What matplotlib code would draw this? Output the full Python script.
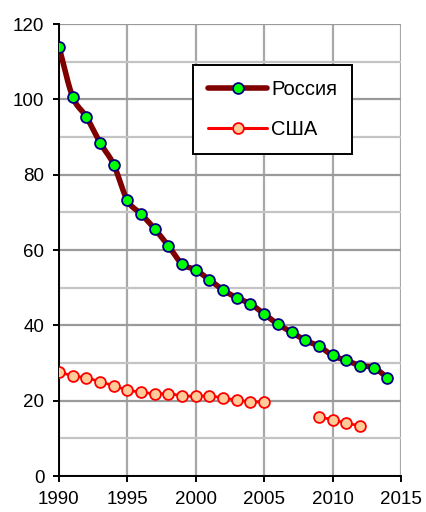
import numpy as np
import matplotlib
matplotlib.use("Agg")
import matplotlib.pyplot as plt
from matplotlib.lines import Line2D

plt.rcParams['font.family'] = ['Liberation Sans', 'DejaVu Sans']

years_russia = list(range(1990, 2015))
russia = [114.0, 100.7, 95.4, 88.5, 82.7, 73.2, 69.6, 65.6, 61.1, 56.3,
          54.7, 52.1, 49.4, 47.3, 45.7, 43.0, 40.3, 38.2, 36.0, 34.5,
          32.0, 30.7, 29.3, 28.8, 26.1]

years_usa_a = list(range(1990, 2006))
usa_a = [27.7, 26.6, 26.1, 25.0, 24.0, 22.8, 22.3, 21.8, 21.9, 21.3,
         21.2, 21.3, 20.7, 20.2, 19.7, 19.7]
years_usa_b = [2009, 2010, 2011, 2012]
usa_b = [15.6, 15.0, 14.0, 13.4]

label_russia = "Россия"
label_usa = "США"
x_ticks = [1990, 1995, 2000, 2005, 2010, 2015]
y_ticks = [0, 20, 40, 60, 80, 100, 120]


def smooth(x, y, n=20):
    """Catmull-Rom smoothing (like Excel's smoothed line) through the data points."""
    x = np.asarray(x, float)
    y = np.asarray(y, float)
    if len(x) < 3:
        return x, y
    px = np.concatenate([[2 * x[0] - x[1]], x, [2 * x[-1] - x[-2]]])
    py = np.concatenate([[2 * y[0] - y[1]], y, [2 * y[-1] - y[-2]]])
    xs, ys = [], []
    t = np.linspace(0, 1, n, endpoint=False)
    for i in range(1, len(px) - 2):
        for p, out in ((px, xs), (py, ys)):
            p0, p1, p2, p3 = p[i - 1], p[i], p[i + 1], p[i + 2]
            out.extend(0.5 * ((2 * p1) + (-p0 + p2) * t +
                              (2 * p0 - 5 * p1 + 4 * p2 - p3) * t ** 2 +
                              (-p0 + 3 * p1 - 3 * p2 + p3) * t ** 3))
    xs.append(x[-1])
    ys.append(y[-1])
    return np.array(xs), np.array(ys)


fig = plt.figure(figsize=(4.27, 5.12), dpi=100)
ax = fig.add_axes([0.138, 0.0703, 0.801, 0.8828])

ax.set_xlim(1990, 2015)
ax.set_ylim(0, 120)
ax.set_xticks(x_ticks)
ax.set_yticks(y_ticks)
ax.set_yticks(np.arange(10, 120, 20), minor=True)

ax.grid(which='major', axis='y', color='#9a9a9a', linewidth=1.6, zorder=0)
ax.grid(which='minor', axis='y', color='#c4c4c4', linewidth=1.6, zorder=0)
ax.grid(which='major', axis='x', color='#a8a8a8', linewidth=1.6, zorder=0)
ax.set_axisbelow(True)

for s in ('top', 'right'):
    ax.spines[s].set_visible(False)
for s in ('left', 'bottom'):
    ax.spines[s].set_color('black')
    ax.spines[s].set_linewidth(1.4)

ax.tick_params(axis='both', which='major', direction='out', length=4.5,
               width=1.4, labelsize=13.5, pad=6, colors='black')
ax.tick_params(axis='y', which='minor', length=0)

# Russia
rx, ry = smooth(years_russia, russia)
ax.plot(rx, ry, color='#800000', linewidth=4.0, solid_capstyle='round', zorder=3)
ax.plot(years_russia, russia, linestyle='none', marker='o', markersize=7.8,
        markerfacecolor='#00ff00', markeredgecolor='#000080', markeredgewidth=1.3, zorder=4)

# USA
for xs_, ys_ in ((years_usa_a, usa_a), (years_usa_b, usa_b)):
    ux, uy = smooth(xs_, ys_)
    ax.plot(ux, uy, color='#ff0000', linewidth=2.0, zorder=3)
    ax.plot(xs_, ys_, linestyle='none', marker='o', markersize=7.8,
            markerfacecolor='#ffcc99', markeredgecolor='#ff0000', markeredgewidth=1.3, zorder=4)

h1 = Line2D([], [], color='#800000', linewidth=4.0, solid_capstyle='round', marker='o',
            markersize=7.8, markerfacecolor='#00ff00', markeredgecolor='#000080', markeredgewidth=1.3)
h2 = Line2D([], [], color='#ff0000', linewidth=2.2, solid_capstyle='round', marker='o',
            markersize=7.8, markerfacecolor='#ffcc99', markeredgecolor='#ff0000', markeredgewidth=1.3)
leg = ax.legend([h1, h2], [label_russia, label_usa], loc='upper left',
                bbox_to_anchor=(0.393, 0.910), fontsize=14.5, numpoints=1,
                handlelength=2.9, handletextpad=0.2, labelspacing=1.05,
                borderpad=0.75, borderaxespad=0, fancybox=False, framealpha=1,
                edgecolor='black')
leg.get_frame().set_linewidth(1.4)

fig.savefig('out.png', dpi=100)
